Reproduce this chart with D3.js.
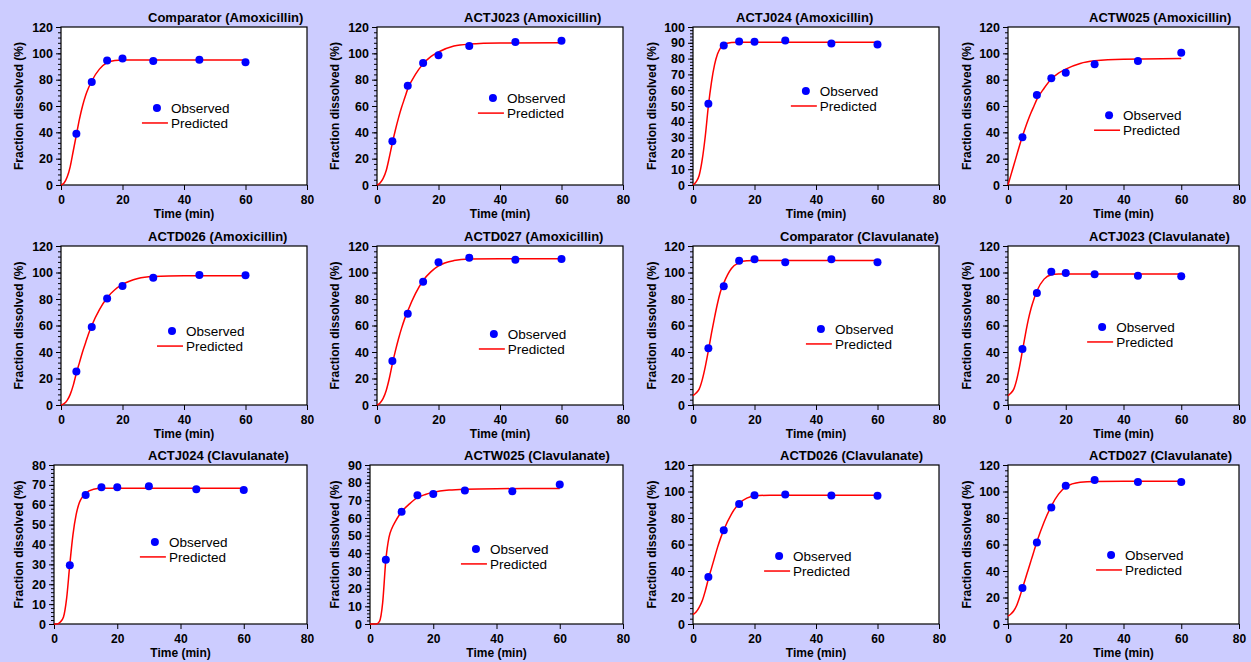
<!DOCTYPE html>
<html>
<head>
<meta charset="utf-8">
<script src="https://cdn.jsdelivr.net/npm/d3@7"></script>
<style>
  body { margin: 0; background: #ccccff; }
  svg { display: block; font-family: Arial, "Liberation Sans", sans-serif; }
</style>
</head>
<body>
<div id="chart"></div>
<script>
'use strict';

// panel titles, left to right, top to bottom
var titles = [
    'Comparator (Amoxicillin)', 'ACTJ023 (Amoxicillin)', 'ACTJ024 (Amoxicillin)', 'ACTW025 (Amoxicillin)',
    'ACTD026 (Amoxicillin)', 'ACTD027 (Amoxicillin)', 'Comparator (Clavulanate)', 'ACTJ023 (Clavulanate)',
    'ACTJ024 (Clavulanate)', 'ACTW025 (Clavulanate)', 'ACTD026 (Clavulanate)', 'ACTD027 (Clavulanate)'
];

// sampling times of the observed points (min)
var obsTimes = [5, 10, 15, 20, 30, 45, 60];

// observed fraction dissolved (%)
var observed = [
    [39, 78.3, 94.5, 96, 94.2, 95.2, 93.2],
    [33.3, 75.3, 92.7, 98.5, 105.6, 108.6, 109.6],
    [51.4, 88.3, 90.8, 90.6, 91.4, 89.5, 88.9],
    [36.2, 68.4, 81, 85.3, 91.8, 94.1, 100.4],
    [25.2, 58.9, 80.3, 89.8, 96.1, 98.1, 97.9],
    [33.2, 68.9, 93.1, 107.7, 111.2, 109.7, 110.2],
    [42.8, 89.6, 108.9, 110, 107.7, 110, 107.7],
    [42.3, 84.5, 100.6, 99.6, 98.6, 97.6, 97.1],
    [29.6, 64.9, 68.8, 68.8, 69.3, 67.8, 67.4],
    [36.3, 63.5, 72.9, 73.6, 75.5, 75.1, 78.9],
    [35.4, 70.8, 90.6, 97.2, 97.7, 96.9, 96.7],
    [27.1, 61.5, 87.9, 104.4, 108.7, 107.2, 107.2]
];

var predTimes = [0, 1, 2, 3, 4, 5, 6, 7, 8, 9, 10, 12.5, 15, 17.5, 20, 25, 30, 40, 60];

// predicted fraction dissolved (%)
var predicted = [
    [0, 1.5, 6, 14, 26, 38, 50, 60, 68, 74, 79, 88, 93, 94.5, 95, 95, 95, 95, 95],
    [0, 1.5, 5, 11, 21, 32, 42, 51, 59, 66, 73, 84, 92, 97.5, 101, 105.5, 107, 107.8, 108],
    [0, 2, 6, 16, 31, 50, 65, 76, 83, 87, 89, 90.2, 90.4, 90.4, 90.4, 90.4, 90.4, 90.4, 90.4],
    [0, 7.5, 15, 22.5, 30, 37, 43.5, 49.5, 55, 60, 65, 73.5, 80.5, 85, 88, 92.3, 94.3, 95.6, 96],
    [0, 1, 3.5, 8, 15, 24, 32, 40, 47, 54, 60, 72, 81, 87, 91, 95.5, 97, 97.6, 97.6],
    [0, 1.5, 5, 11, 20, 31, 41, 50, 58, 65, 71, 84, 94, 100.5, 105, 109, 110.2, 110.4, 110.4],
    [7, 9, 12, 19, 29, 41, 54, 66, 77, 86, 92, 103, 107.5, 108.8, 109, 109, 109, 109, 109],
    [7, 9, 12, 19, 29, 41, 53, 64, 73, 80, 86, 95, 98.3, 98.8, 98.9, 98.9, 98.9, 98.9, 98.9],
    [0, 0, 1, 3.5, 13, 30, 45, 55, 61, 64, 65.8, 67.8, 68.3, 68.3, 68.3, 68.3, 68.3, 68.3, 68.3],
    [0, 0, 0, 1.5, 12, 36, 49, 54.5, 58, 61, 63.5, 68, 71.5, 73.3, 74.5, 75.8, 76.3, 76.6, 76.7],
    [7, 9, 12.5, 17.5, 25, 34, 42, 50, 58, 65, 71, 83, 91, 95, 96.6, 97.2, 97.2, 97.2, 97.2],
    [6, 7.5, 10, 14, 20, 27, 34, 41, 48, 55, 62, 77, 89, 98, 103.5, 107, 107.6, 107.7, 107.7]
];

// y axis maximum and major step per panel
var yMax = [120, 120, 100, 120, 120, 120, 120, 120, 80, 90, 120, 120];
var yStep = [20, 20, 10, 20, 20, 20, 20, 20, 10, 10, 20, 20];
var xTicks = [0, 20, 40, 60, 80];

//layout
var config = {};
config.width = 1251;
config.height = 662;
config.rowTop = [27, 246, 465];
config.rowBottom = [185, 405, 624];
config.colRight = [307, 623, 939, 1239];
config.colLabelX = [19, 335, 652, 967];
config.plotLeft = [61, 377, 693, 1008, 61, 377, 693, 1008, 54, 370, 693, 1008];
config.titleX = [148, 464, 736, 1089, 148, 464, 780, 1089, 148, 464, 780, 1089];
// legend anchor (the Observed marker) in data units of each panel
config.legend = [[31.2, 58.5], [37.7, 66], [36.7, 59.5], [35, 53], [36.1, 55.8], [38, 53.6],
                 [41.6, 57.4], [32.6, 58.9], [31.9, 41.3], [33.5, 42.5], [28, 51.3], [35.7, 52.1]];

var svg = d3.select('#chart')
    .append('svg')
    .attr('width', config.width)
    .attr('height', config.height);

svg.append('rect')
    .attr('width', config.width)
    .attr('height', config.height)
    .attr('fill', '#ccccff');

titles.forEach(function(title, i){
    var col = i % 4, row = Math.floor(i / 4);
    var left = config.plotLeft[i], right = config.colRight[col];
    var top = config.rowTop[row], bottom = config.rowBottom[row];

    var x = d3.scaleLinear().domain([0, 80]).range([left, right]);
    var y = d3.scaleLinear().domain([0, yMax[i]]).range([bottom, top]);

    var g = svg.append('g').attr('class', 'panel');

    g.append('rect')
        .attr('x', left)
        .attr('y', top)
        .attr('width', right - left)
        .attr('height', bottom - top)
        .attr('fill', '#fff');

    //minor y ticks
    var minor = d3.range(0, yMax[i] + 0.001, yStep[i] / 5);
    g.append('g')
        .attr('transform', 'translate(' + left + ',0)')
        .call(d3.axisLeft(y).tickValues(minor).tickSize(3).tickFormat(''))
        .call(function(a){ a.select('.domain').remove(); });

    //major y ticks
    var yAxis = g.append('g')
        .attr('transform', 'translate(' + left + ',0)')
        .call(d3.axisLeft(y).tickValues(d3.range(0, yMax[i] + 0.001, yStep[i])).tickSize(5).tickPadding(3));
    yAxis.select('.domain').remove();

    var xAxis = g.append('g')
        .attr('transform', 'translate(0,' + bottom + ')')
        .call(d3.axisBottom(x).tickValues(xTicks).tickSize(5).tickPadding(5));
    xAxis.select('.domain').remove();

    g.selectAll('.tick text')
        .attr('fill', '#000')
        .style('font-size', '12.5px')
        .style('font-weight', 'bold');
    xAxis.selectAll('.tick text').style('font-size', '12px');
    g.selectAll('.tick line').attr('stroke', '#000');

    //frame
    g.append('rect')
        .attr('x', left)
        .attr('y', top)
        .attr('width', right - left)
        .attr('height', bottom - top)
        .attr('fill', 'none')
        .attr('stroke', '#000')
        .attr('stroke-width', 1.2);

    //predicted curve
    var line = d3.line()
        .x(function(d){ return x(d[0]); })
        .y(function(d){ return y(d[1]); })
        .curve(d3.curveMonotoneX);
    g.append('path')
        .datum(predTimes.map(function(t, k){ return [t, predicted[i][k]]; }))
        .attr('d', line)
        .attr('fill', 'none')
        .attr('stroke', '#ff0000')
        .attr('stroke-width', 1.5);

    //observed points
    g.selectAll('circle.obs')
        .data(obsTimes.map(function(t, k){ return [t, observed[i][k]]; }))
        .enter()
            .append('circle')
            .attr('class', 'obs')
            .attr('cx', function(d){ return x(d[0]); })
            .attr('cy', function(d){ return y(d[1]); })
            .attr('r', 4)
            .attr('fill', '#0000ff');

    //title
    g.append('text')
        .attr('x', config.titleX[i])
        .attr('y', top - 5)
        .style('font-size', '13px')
        .style('font-weight', 'bold')
        .text(title);

    //axis labels
    g.append('text')
        .attr('x', (left + right) / 2)
        .attr('y', bottom + 33)
        .attr('text-anchor', 'middle')
        .style('font-size', '12px')
        .style('font-weight', 'bold')
        .text('Time (min)');

    g.append('text')
        .attr('transform', 'translate(' + config.colLabelX[col] + ',' + (top + bottom) / 2 + ') rotate(-90)')
        .attr('text-anchor', 'middle')
        .attr('dy', '0.35em')
        .style('font-size', '12px')
        .style('font-weight', 'bold')
        .text('Fraction dissolved (%)');

    //legend
    var lx = x(config.legend[i][0]), ly = y(config.legend[i][1]);
    g.append('circle')
        .attr('cx', lx)
        .attr('cy', ly)
        .attr('r', 4)
        .attr('fill', '#0000ff');
    g.append('line')
        .attr('x1', lx - 15)
        .attr('x2', lx + 11)
        .attr('y1', ly + 15)
        .attr('y2', ly + 15)
        .attr('stroke', '#ff0000')
        .attr('stroke-width', 1.5);
    g.append('text')
        .attr('x', lx + 14)
        .attr('y', ly + 5)
        .style('font-size', '13.5px')
        .text('Observed');
    g.append('text')
        .attr('x', lx + 14)
        .attr('y', ly + 20)
        .style('font-size', '13.5px')
        .text('Predicted');
});
</script>
</body>
</html>
